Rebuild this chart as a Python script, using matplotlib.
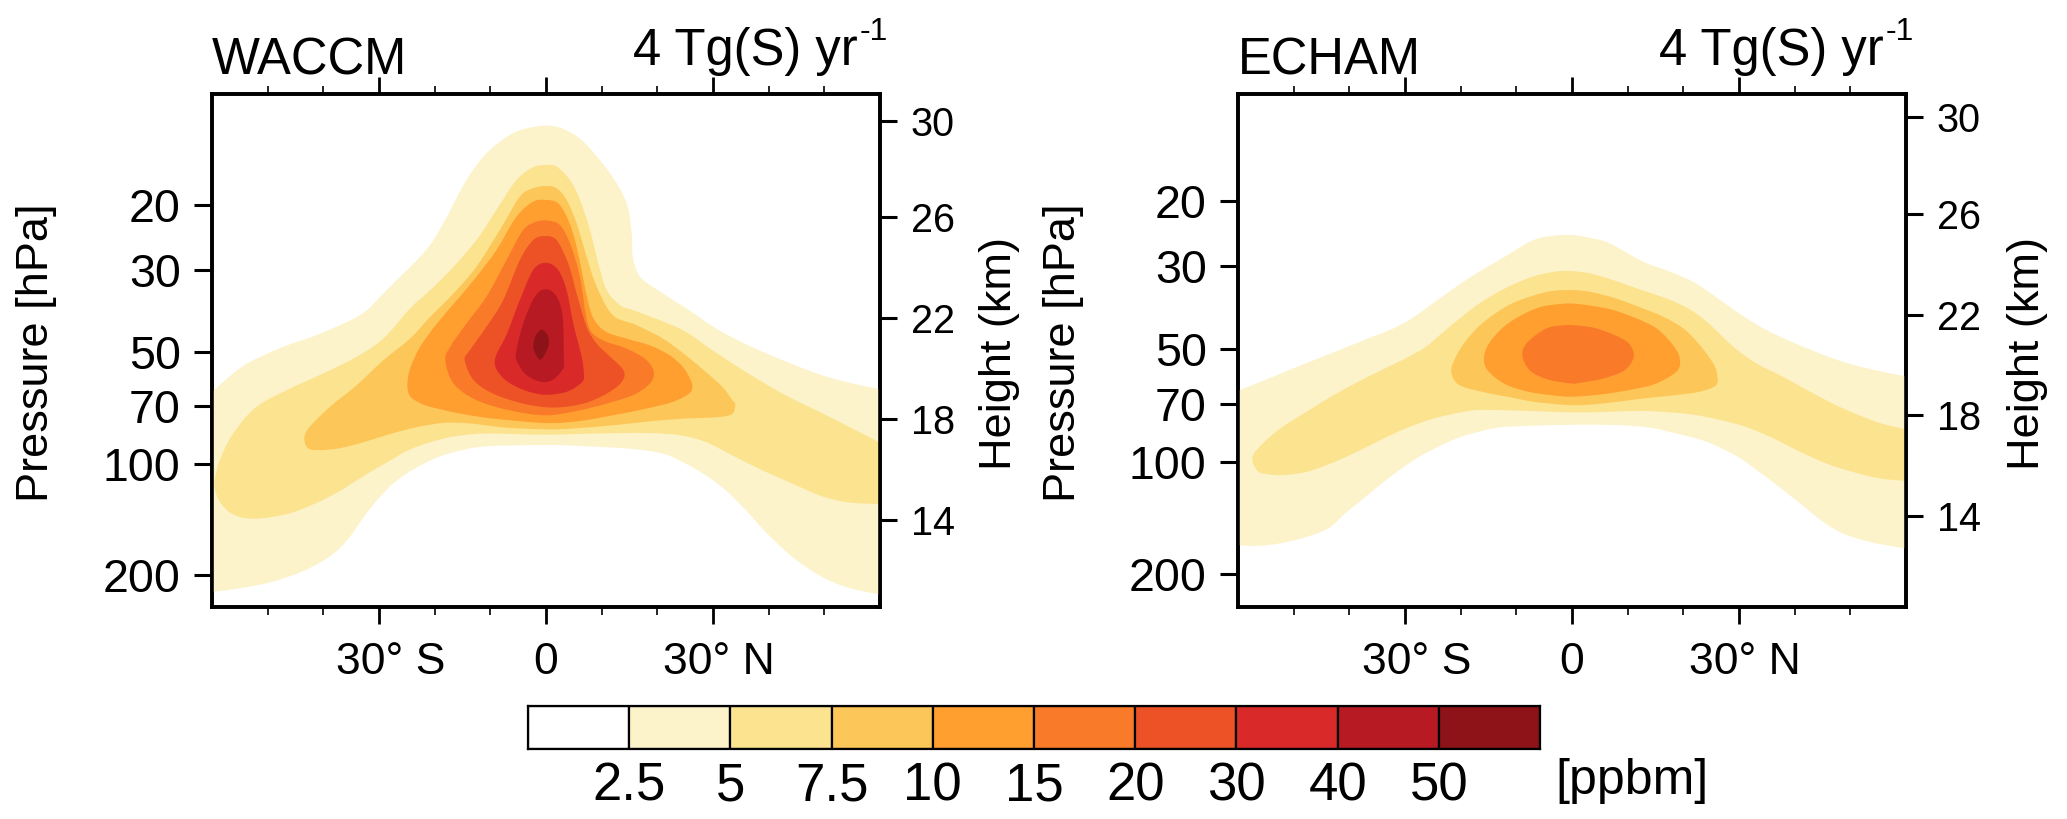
import matplotlib
matplotlib.use('Agg')
from matplotlib import pyplot as plt
from matplotlib.patches import PathPatch
from matplotlib.path import Path
from matplotlib.ticker import NullLocator
from matplotlib.transforms import ScaledTranslation

plt.rcParams['font.family'] = ['Liberation Sans', 'DejaVu Sans']

## data: outline of each filled contour, latitude (deg) and height (km)
# WACCM
waccm_lat_2p5 = [-60, -56.2, -53.2, -47.2, -41.2, -33.4, -29.2, -26.2, -22.6, -20.2, -17.8, -14.3, -10.7, -6.5, -3.5, 0, 3.1, 6.7, 11.5, 14.5, 15.4, 15.6, 16.9, 20.5, 25.7, 31.1, 38.3, 47.9, 53.9, 60,
                 60, 53.9, 49.1, 44.3, 39.5, 35.9, 32.3, 28.7, 25.1, 21, 15, 6, 0, -10.4, -15.1, -19.3, -23.5, -27.1, -30.1, -32.5, -35.5, -38.5, -43.3, -49.3, -55.3, -60]
waccm_km_2p5 = [19.13, 19.87, 20.33, 20.94, 21.41, 22.21, 23.08, 23.75, 24.55, 25.22, 26.16, 27.63, 28.7, 29.44, 29.7, 29.81, 29.68, 29.17, 27.9, 26.69, 25.49, 24.55, 23.75, 23.15, 22.41, 21.6, 20.8, 19.93, 19.53, 19.24,
                10.99, 11.3, 11.77, 12.5, 13.5, 14.38, 15.18, 15.78, 16.25, 16.65, 16.85, 16.96, 17.0, 16.95, 16.79, 16.52, 16.06, 15.52, 14.85, 14.18, 13.24, 12.58, 11.97, 11.5, 11.24, 11.1]
waccm_lat_5 = [-59.5, -58.6, -56.2, -52, -46, -40, -34, -29.2, -24.4, -20.8, -16.6, -12.5, -8.9, -5.3, -2.3, 0, 1.9, 4.3, 6.1, 7.9, 9.4, 10.9, 13.3, 15.6, 20.4, 25.1, 29.9, 35.9, 41.9, 47.9, 53.9, 60,
               60, 53.9, 49.1, 44.3, 38.9, 33.5, 28.7, 24, 18, 9, 0, -10.4, -16.3, -20.5, -24.7, -28.9, -32.5, -37.3, -41.5, -45.7, -49.9, -53.5, -56.5, -58.6, -59.5]
waccm_km_5 = [15.59, 16.39, 17.46, 18.53, 19.26, 19.87, 20.54, 21.27, 22.48, 23.21, 24.15, 25.22, 26.43, 27.63, 28.14, 28.23, 28.17, 27.63, 26.83, 25.62, 24.28, 23.21, 22.61, 22.41, 22.01, 21.54, 20.8, 19.93, 19.13, 18.46, 17.79, 17.09,
              14.62, 14.71, 14.98, 15.45, 15.98, 16.58, 17.12, 17.39, 17.48, 17.46, 17.41, 17.46, 17.35, 17.13, 16.79, 16.26, 15.79, 15.12, 14.65, 14.28, 14.09, 14.05, 14.25, 14.72, 15.25]
waccm_lat_7p5 = [-43.4, -42.7, -38.8, -34, -29.2, -24.4, -20.8, -16.6, -12.5, -8.3, -4.7, -2.3, 0, 1.9, 3.7, 5.5, 7.3, 9.1, 12, 16.2, 21, 25.1, 28.7, 31.7, 33.5, 34, 33.5,
                 31.1, 25.1, 19.2, 12, 4.8, 0, -7.4, -13.4, -18.1, -22.9, -27.7, -33.1, -37.3, -40.9, -42.7]
waccm_km_7p5 = [17.2, 17.66, 18.53, 19.4, 20.4, 21.27, 22.14, 23.08, 24.15, 25.62, 26.96, 27.3, 27.39, 27.3, 26.83, 25.89, 24.55, 23.35, 22.21, 21.81, 21.27, 20.6, 19.93, 19.33, 18.79, 18.63, 18.26,
                18.12, 18.06, 17.96, 17.79, 17.66, 17.63, 17.7, 17.86, 17.89, 17.73, 17.46, 17.09, 16.86, 16.79, 16.86]
waccm_lat_10 = [-24.9, -24.4, -22.6, -19.6, -16, -12.5, -8.9, -5.3, -2.3, 0, 2.2, 4, 5.5, 7.5, 8.7, 10.8, 14.4, 18.6, 22.2, 24.6, 26, 26.3, 25.7,
                22.8, 18, 12, 6, 0, -9.5, -15.4, -20.8, -22.6, -24.4]
waccm_km_10 = [19.4, 20.07, 20.94, 21.87, 22.81, 23.75, 24.82, 26.16, 26.76, 26.83, 26.69, 26.02, 24.95, 22.81, 22.01, 21.54, 21.27, 21, 20.6, 20.13, 19.6, 19.3, 19.06,
               18.73, 18.46, 18.19, 17.96, 17.88, 18.06, 18.26, 18.53, 18.68, 18.95]
waccm_lat_15 = [-18.1, -17.2, -14.3, -10.7, -7.1, -4.1, -1.7, 0.4, 2.5, 4.3, 6.1, 7.5, 9.6, 14.4, 17.7, 19.3, 18.9, 16.2, 12, 6, 0, -6.5, -12.5, -16.6]
waccm_km_15 = [20.4, 20.94, 21.87, 22.95, 24.42, 25.62, 25.96, 26, 25.82, 25.09, 23.75, 21.87, 21.27, 20.87, 20.47, 20, 19.53, 19.06, 18.73, 18.39, 18.19, 18.39, 18.8, 19.46]
waccm_lat_20 = [-14.6, -13.7, -10.7, -7.7, -4.7, -2.3, -0.2, 1.9, 4, 5.5, 7.3, 9.1, 10.9, 13.9, 13.6, 10.9, 6.7, 1.3, -4.1, -9.5, -13]
waccm_km_20 = [20.4, 20.8, 21.74, 22.81, 24.42, 25.22, 25.38, 25.22, 24.28, 23.08, 21.74, 21.07, 20.67, 20, 19.53, 19.06, 18.66, 18.5, 18.66, 19.06, 19.6]
waccm_lat_30 = [-9.2, -7, -4.7, -2.3, 0, 2.2, 3.7, 4.9, 6.4, 6.8, 6.5, 3.7, -0.5, -4.6, -7.9]
waccm_km_30 = [20.4, 21.47, 22.81, 24.02, 24.31, 24.02, 23.21, 21.87, 20.54, 19.87, 19.53, 19.13, 19.02, 19.26, 19.73]
waccm_lat_40 = [-5.4, -4.1, -2, 0, 1.9, 3, 3.2, 3.1, 1.3, -0.8, -3.5, -5]
waccm_km_40 = [20.67, 21.87, 22.95, 23.25, 22.95, 22.14, 20.4, 20.07, 19.63, 19.53, 19.8, 20.27]
waccm_lat_50 = [-0.7, 0.4, 0.4, -0.8, -1.6, -2.3, -1.8]
waccm_km_50 = [21.63, 21.34, 20.94, 20.44, 20.54, 20.94, 21.41]

# ECHAM
echam_lat_2p5 = [-60, -54.5, -48.6, -42.6, -36.6, -32.4, -28.8, -24.6, -18.6, -12.6, -7.2, -3.7, 0, 3.8, 6.8, 12.8, 17.6, 21.8, 25.4, 29.6, 34.4, 40.4, 47.5, 53.5, 60,
                 60, 53.5, 48.7, 45.1, 41, 36.8, 33.2, 29.6, 24.2, 18.8, 14, 8, 0, -6.6, -13.2, -18.6, -22.2, -27, -30.6, -34.2, -37.8, -40.8, -43.8, -48.6, -53.4, -57, -60]
echam_km_2p5 = [19.03, 19.52, 20.06, 20.59, 21.13, 21.5, 21.93, 22.6, 23.54, 24.34, 25.05, 25.24, 25.28, 25.14, 24.94, 24.21, 23.81, 23.4, 22.87, 22.2, 21.53, 20.9, 20.28, 19.9, 19.61,
                12.69, 12.96, 13.3, 13.77, 14.5, 15.24, 15.84, 16.4, 16.98, 17.31, 17.55, 17.65, 17.66, 17.63, 17.55, 17.27, 16.98, 16.44, 15.91, 15.3, 14.64, 14.1, 13.5, 13.1, 12.87, 12.8, 12.83]
echam_lat_5 = [-57.4, -55.4, -52.2, -48, -43.8, -39, -34.2, -30, -26.4, -23.4, -19.8, -16.2, -12, -7.2, -3, 0, 3.2, 7.4, 11.6, 17, 20.9, 24.2, 29, 33.2, 37.9, 42.8, 48.1, 54.7, 60,
               60, 55.3, 50.5, 45.7, 40.4, 35.6, 30.8, 26, 21.2, 16.4, 12.2, 5.6, 0, -6.6, -12.6, -17.4, -21.6, -25.8, -30.6, -35.4, -40.8, -46.2, -49.2, -52.2, -54.6, -56.5]
echam_km_5 = [16.38, 16.94, 17.55, 18.14, 18.72, 19.32, 19.86, 20.32, 20.77, 21.33, 22, 22.6, 23.14, 23.6, 23.81, 23.83, 23.74, 23.47, 23.14, 22.73, 22.33, 21.8, 20.79, 20.12, 19.59, 18.99, 18.38, 17.78, 17.47,
              15.41, 15.51, 15.77, 16.11, 16.64, 17.18, 17.61, 17.89, 18.09, 18.18, 18.22, 18.18, 18.16, 18.21, 18.25, 18.25, 18.09, 17.85, 17.45, 16.94, 16.35, 15.87, 15.71, 15.64, 15.68, 15.81]
echam_lat_7p5 = [-21.7, -20.7, -19.2, -16.8, -13.8, -10.8, -7.2, -3.7, 0, 3.2, 7.4, 11.6, 16.4, 20, 22.7, 24.8, 25.9, 26, 23.6, 20, 12.8, 5.6, 0, -6.6, -11.4, -16.2, -20.4]
echam_km_7p5 = [19.83, 20.46, 20.99, 21.6, 22.13, 22.53, 22.83, 23.03, 23.07, 23, 22.77, 22.43, 22, 21.53, 20.93, 20.32, 19.86, 19.29, 19.03, 18.89, 18.72, 18.52, 18.45, 18.58, 18.78, 18.99, 19.28]
echam_lat_10 = [-15.8, -14.9, -12.6, -9.6, -6, -3, 0, 3.8, 7.4, 11.6, 15.2, 17.9, 19.3, 18.9, 15.1, 11, 5.6, 0, -3.7, -7.8, -12, -15.2]
echam_km_10 = [20.39, 20.93, 21.53, 22, 22.37, 22.49, 22.53, 22.43, 22.27, 21.93, 21.53, 20.93, 20.39, 19.83, 19.32, 19.09, 18.89, 18.79, 18.85, 18.99, 19.29, 19.86]
echam_lat_15 = [-8.9, -8.1, -4.6, -1.3, 1.4, 4.4, 7.7, 10.2, 11.1, 9.5, 5.6, 1.4, 0, -4.3, -7.5]
echam_km_15 = [20.42, 20.95, 21.53, 21.66, 21.64, 21.53, 21.26, 20.93, 20.42, 19.86, 19.52, 19.35, 19.32, 19.48, 19.83]

waccm_lat = [waccm_lat_2p5, waccm_lat_5, waccm_lat_7p5, waccm_lat_10, waccm_lat_15, waccm_lat_20, waccm_lat_30, waccm_lat_40, waccm_lat_50]
waccm_km = [waccm_km_2p5, waccm_km_5, waccm_km_7p5, waccm_km_10, waccm_km_15, waccm_km_20, waccm_km_30, waccm_km_40, waccm_km_50]
echam_lat = [echam_lat_2p5, echam_lat_5, echam_lat_7p5, echam_lat_10, echam_lat_15]
echam_km = [echam_km_2p5, echam_km_5, echam_km_7p5, echam_km_10, echam_km_15]

levelColors = ['#FDF3CB', '#FBE38F', '#FDC659', '#FE9F30', '#F97B2A', '#ED5227', '#D92A29', '#B81A24', '#8E1318']
levelLabels = ['2.5', '5', '7.5', '10', '15', '20', '30', '40', '50']

pressureTicks = [20, 30, 50, 70, 100, 200]
# the height scale on the right is not quite even, these are where its ticks fall
heightTickPos = [14, 18.06, 22.08, 26.14, 30]
heightLabels = ['14', '18', '22', '26', '30']
latMajor = [-30, 0, 30]
latLabels = ['30° S', '0', '30° N']
latMinor = [-50, -40, -20, -10, 10, 20, 40, 50]

## figure, pixel sized
W, H = 2067, 819
fig = plt.figure(figsize=(W/100, H/100), dpi=100)


def px_axes(x0, y0, x1, y1):
    return fig.add_axes([x0/W, 1-y1/H, (x1-x0)/W, (y1-y0)/H])


# closed bezier path through the outline points, straight along the panel edges
def smooth_outline(lat, km):
    n = len(lat)
    onEdge = [abs(v) >= 60 for v in lat]
    verts = [(lat[0], km[0])]
    codes = [Path.MOVETO]
    for i in range(n):
        a, b, c, d = (i-1) % n, i, (i+1) % n, (i+2) % n
        if onEdge[b] and onEdge[c]:
            c1 = (lat[b], km[b])
            c2 = (lat[c], km[c])
        else:
            if onEdge[b]:
                c1 = (lat[b] + (lat[c]-lat[b])/3, km[b] + (km[c]-km[b])/3)
            else:
                c1 = (lat[b] + (lat[c]-lat[a])/6, km[b] + (km[c]-km[a])/6)
            if onEdge[c]:
                c2 = (lat[c] - (lat[c]-lat[b])/3, km[c] - (km[c]-km[b])/3)
            else:
                c2 = (lat[c] - (lat[d]-lat[b])/6, km[c] - (km[d]-km[b])/6)
        verts += [c1, c2, (lat[c], km[c])]
        codes += [Path.CURVE4, Path.CURVE4, Path.CURVE4]
    return Path(verts, codes)


def make_panel(x0, latLists, kmLists, pRange, kmRange, name):
    ax = px_axes(x0, 94, x0+668, 607)
    ax.set_yscale('log')
    ax.set_xlim(-60, 60)
    ax.set_ylim(*pRange)
    ax.set_yticks(pressureTicks)
    ax.set_yticklabels([str(p) for p in pressureTicks])
    ax.yaxis.set_minor_locator(NullLocator())
    ax.set_xticks(latMajor)
    ax.set_xticklabels(latLabels)
    ax.set_xticks(latMinor, minor=True)
    ax.tick_params(axis='x', which='major', top=True, length=12.5, width=2, labelsize=32, pad=13)
    ax.tick_params(axis='x', which='minor', top=True, length=6, width=1.2)
    ax.tick_params(axis='y', which='major', length=13, width=2.2, labelsize=33.5, pad=9.5)

    # the S and N labels sit a little right of their ticks
    labels = ax.get_xticklabels()
    for lab, dx in [(labels[0], 0.12), (labels[2], 0.06)]:
        lab.set_transform(lab.get_transform() + ScaledTranslation(dx, 0, fig.dpi_scale_trans))

    axH = ax.twinx()
    axH.set_ylim(*kmRange)
    axH.set_yticks(heightTickPos)
    axH.set_yticklabels(heightLabels)
    axH.tick_params(axis='y', length=12.5, width=2.2, labelsize=28.5, pad=9.5)
    for lat, km, col in zip(latLists, kmLists, levelColors):
        axH.add_patch(PathPatch(smooth_outline(lat, km), facecolor=col, edgecolor='none', linewidth=0))

    for a in (ax, axH):
        for s in a.spines.values():
            s.set_linewidth(2.6)

    ax.text(0, 1.038, name, transform=ax.transAxes, fontsize=36.5, ha='left', va='baseline')
    ax.text((858-212)/668, (607-65)/513, '4 Tg(S) yr', transform=ax.transAxes, fontsize=36.5, ha='right', va='baseline')
    ax.text((860-212)/668, (607-40)/513, '-1', transform=ax.transAxes, fontsize=23, ha='left', va='baseline')
    return ax


make_panel(212, waccm_lat, waccm_km, (244, 10), (10.5, 31.08), 'WACCM')
make_panel(1238, echam_lat, echam_km, (245, 10.36), (10.35, 30.94), 'ECHAM')

# axis titles sit outside the tick labels
for xPx, label in [(37, 'Pressure [hPa]'), (1000, 'Height (km)'), (1063, 'Pressure [hPa]'), (2028, 'Height (km)')]:
    fig.text(xPx/W, 1-353/H, label, rotation=90, fontsize=32.5, ha='center', va='center')

## colour bar
cax = px_axes(528, 706, 1540, 749)
barColors = ['white'] + levelColors
cax.bar(range(10), [1]*10, width=1, align='edge', color=barColors, edgecolor='black', linewidth=1.6)
cax.set_xlim(0, 10)
cax.set_ylim(0, 1)
cax.set_yticks([])
cax.set_xticks(range(1, 10))
cax.set_xticklabels(levelLabels)
cax.tick_params(axis='x', length=0, labelsize=38, pad=9)
for s in cax.spines.values():
    s.set_linewidth(1.6)
fig.text(1555/W, 1-781/H, '[ppbm]', fontsize=36, ha='left', va='center')

fig.savefig('out.png', dpi=100)
